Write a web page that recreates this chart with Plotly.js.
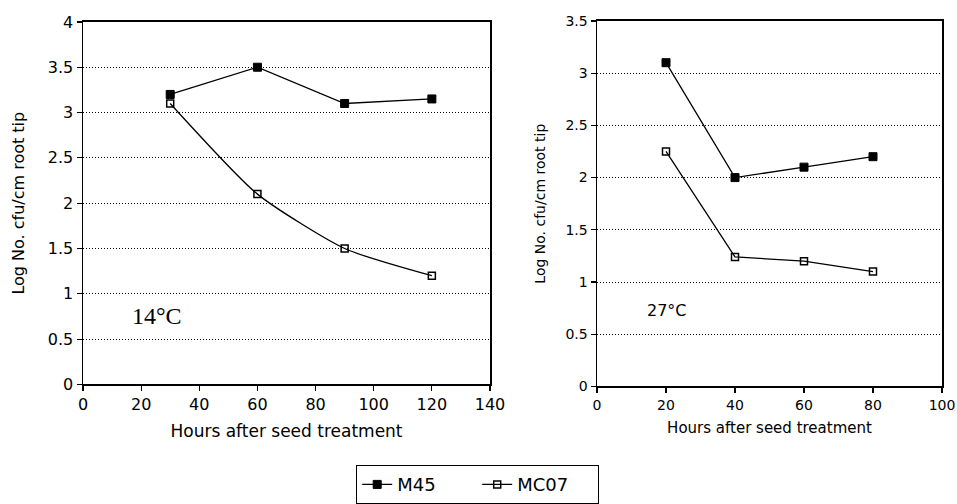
<!DOCTYPE html>
<html><head><meta charset="utf-8">
<script src="https://cdn.plot.ly/plotly-3.0.1.min.js"></script>
<style>body{margin:0;background:#fff}#c{width:957px;height:504px}</style>
</head><body><div id="c"></div>
<script>
// Left panel (14°C)
const hoursLeft = [30, 60, 90, 120];
const m45Left = [3.2, 3.5, 3.1, 3.15];
const mc07Left = [3.1, 2.1, 1.5, 1.2];
// Right panel (27°C)
const hoursRight = [20, 40, 60, 80];
const m45Right = [3.1, 2.0, 2.1, 2.2];
const mc07Right = [2.25, 1.24, 1.2, 1.1];
const seriesNames = ['M45', 'MC07'];
const yTitle = 'Log No. cfu/cm root tip';
const xTitle = 'Hours after seed treatment';

const FONT = 'DejaVu Sans, Arial, sans-serif';
const lineStyle = {color: '#000', width: 1.3};
const filled = {symbol: 'square', size: 8, color: '#000', line: {color: '#000', width: 1}};
const open = {symbol: 'square-open', size: 7, color: '#000', line: {color: '#000', width: 1.5}};

const traces = [
  {x: hoursLeft, y: m45Left, name: seriesNames[0], mode: 'lines+markers', line: lineStyle, marker: filled, xaxis: 'x', yaxis: 'y', showlegend: true},
  {x: hoursLeft, y: mc07Left, name: seriesNames[1], mode: 'lines+markers', line: Object.assign({shape: 'spline', smoothing: 0.6}, lineStyle), marker: open, xaxis: 'x', yaxis: 'y', showlegend: true},
  {x: hoursRight, y: m45Right, name: seriesNames[0], mode: 'lines+markers', line: lineStyle, marker: filled, xaxis: 'x2', yaxis: 'y2', showlegend: false},
  {x: hoursRight, y: mc07Right, name: seriesNames[1], mode: 'lines+markers', line: lineStyle, marker: open, xaxis: 'x2', yaxis: 'y2', showlegend: false}
];

function ax(extra) {
  return Object.assign({
    showline: true, linecolor: '#000', linewidth: 1.5, mirror: true,
    ticks: 'outside', ticklen: 5, tickcolor: '#000', tickwidth: 1.2,
    zeroline: false, showgrid: false, fixedrange: true
  }, extra);
}
const grid = {showgrid: true, gridcolor: '#000', griddash: '1px,2px', gridwidth: 1};

const layout = {
  width: 957, height: 504,
  margin: {l: 0, r: 0, t: 0, b: 0},
  paper_bgcolor: '#fff', plot_bgcolor: '#fff',
  font: {family: FONT, color: '#000'},
  showlegend: true,
  legend: {orientation: 'h', x: 356/957, xanchor: 'left', y: 1 - 467/504, yanchor: 'top',
           bordercolor: '#000', borderwidth: 1.2, font: {size: 18, color: '#000'},
           entrywidth: 75, tracegroupgap: 0},
  xaxis: ax({domain: [83/957, 490/957], range: [0, 140], dtick: 20, anchor: 'y',
    tickfont: {size: 16}, title: {text: xTitle, font: {size: 17}, standoff: 12}}),
  yaxis: ax(Object.assign({domain: [1 - 386/504, 1 - 22/504], range: [0, 4], dtick: 0.5, anchor: 'x',
    tickfont: {size: 16}, title: {text: yTitle, font: {size: 16}, standoff: 19}}, grid)),
  xaxis2: ax({domain: [597/957, 942/957], range: [0, 100], dtick: 20, anchor: 'y2',
    tickfont: {size: 14}, title: {text: xTitle, font: {size: 15}, standoff: 10}}),
  yaxis2: ax(Object.assign({domain: [1 - 388/504, 1 - 21/504], range: [0, 3.5], dtick: 0.5, anchor: 'x2',
    tickfont: {size: 14}, title: {text: yTitle, font: {size: 14}, standoff: 16}}, grid)),
  annotations: [
    {text: '14°C', x: 25.5, y: 0.75, xref: 'x', yref: 'y', showarrow: false,
     font: {family: 'Liberation Serif, Times New Roman, serif', size: 24, color: '#000'}},
    {text: '27°C', x: 20.3, y: 0.725, xref: 'x2', yref: 'y2', showarrow: false,
     font: {family: FONT, size: 16, color: '#000'}}
  ]
};

Plotly.newPlot('c', traces, layout, {displayModeBar: false, staticPlot: true});
</script></body></html>
